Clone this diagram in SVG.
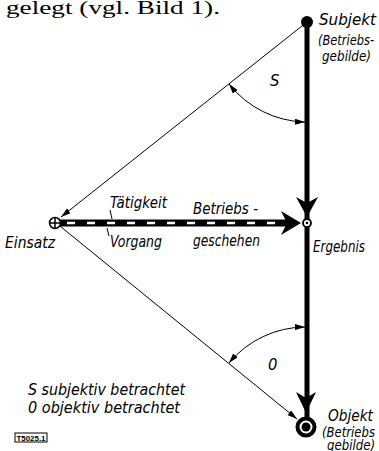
<svg xmlns="http://www.w3.org/2000/svg" width="379" height="451" viewBox="0 0 379 451">
<style>
.t{font-family:"DejaVu Sans Condensed","DejaVu Sans","Liberation Sans",sans-serif;font-style:italic;font-size:16.5px;fill:#000}
.s{font-size:14px}
.thin{stroke:#000;stroke-width:1;fill:none}
</style>
<defs>
<marker id="ah" viewBox="0 0 10 6" refX="10" refY="3" markerWidth="10" markerHeight="6" markerUnits="userSpaceOnUse" orient="auto-start-reverse">
<path d="M0,0 L10,3 L0,6 Z" fill="#000"/>
</marker>
</defs>
<rect width="379" height="451" fill="#fff"/>
<text x="6" y="14" font-family="Liberation Serif,serif" font-size="19" textLength="214" lengthAdjust="spacingAndGlyphs">gelegt (vgl. Bild 1).</text>
<g id="connectors">
<line class="thin" x1="307" y1="22" x2="61" y2="217" marker-end="url(#ah)"/>
<line class="thin" x1="55" y1="222" x2="297" y2="419" marker-end="url(#ah)"/>
<path class="thin" d="M229,84 A100,100 0 0 0 305,122" marker-start="url(#ah)" marker-end="url(#ah)"/>
<path class="thin" d="M305,327 A100,100 0 0 0 229,363" marker-start="url(#ah)" marker-end="url(#ah)"/>
<line x1="307" y1="22" x2="307" y2="420" stroke="#000" stroke-width="5"/>
<path d="M307,217 L296,197 L307,203 L318,197 Z" fill="#000"/>
<path d="M306,413 L296,392 L306,398 L316,392 Z" fill="#000"/>
<line x1="60" y1="223" x2="290" y2="223" stroke="#000" stroke-width="7"/>
<line x1="67" y1="223" x2="290" y2="223" stroke="#fff" stroke-width="2.5" stroke-dasharray="8 12"/>
<path d="M301,223 L281,211 L287,223 L281,235 Z" fill="#000"/>
<line class="thin" x1="110" y1="210" x2="112" y2="219"/>
<line class="thin" x1="107" y1="228" x2="109" y2="236"/>
</g>
<g id="subjekt">
<circle cx="307" cy="22" r="6" fill="#000"/>
<text class="t" x="319" y="25" textLength="57" lengthAdjust="spacingAndGlyphs">Subjekt</text>
<text class="t s" x="318" y="45" textLength="56" lengthAdjust="spacingAndGlyphs">(Betriebs-</text>
<text class="t s" x="322" y="61" textLength="49" lengthAdjust="spacingAndGlyphs">gebilde)</text>
</g>
<g id="einsatz">
<circle cx="55" cy="223" r="5.5" fill="#fff" stroke="#000" stroke-width="1.5"/>
<path d="M49.5,223 H60.5 M55,217.5 V228.5" stroke="#000" stroke-width="1.5"/>
<text class="t" x="5" y="248" textLength="50" lengthAdjust="spacingAndGlyphs">Einsatz</text>
</g>
<g id="ergebnis">
<circle cx="307" cy="223" r="4" fill="#fff" stroke="#000" stroke-width="1.8"/>
<circle cx="307" cy="223" r="1.3" fill="#000"/>
<text class="t" x="313" y="252" textLength="52" lengthAdjust="spacingAndGlyphs">Ergebnis</text>
</g>
<g id="objekt">
<circle cx="306" cy="427" r="8.5" fill="#fff" stroke="#000" stroke-width="4"/>
<circle cx="306" cy="427" r="4.5" fill="#000"/>
<text class="t" x="328" y="421" textLength="45" lengthAdjust="spacingAndGlyphs">Objekt</text>
<text class="t s" x="322" y="437" textLength="53" lengthAdjust="spacingAndGlyphs">(Betriebs</text>
<text class="t s" x="327" y="450" textLength="48" lengthAdjust="spacingAndGlyphs">gebilde)</text>
</g>
<g id="labels">
<text class="t" x="110" y="208" textLength="57" lengthAdjust="spacingAndGlyphs">Tätigkeit</text>
<text class="t" x="110" y="247" textLength="52" lengthAdjust="spacingAndGlyphs">Vorgang</text>
<text class="t" x="193" y="214" textLength="65" lengthAdjust="spacingAndGlyphs">Betriebs -</text>
<text class="t" x="193" y="246" textLength="67" lengthAdjust="spacingAndGlyphs">geschehen</text>
<text class="t" x="270" y="86" font-size="20">S</text>
<text class="t" x="268" y="370" font-size="20">0</text>
<text class="t" x="28" y="395" textLength="157" lengthAdjust="spacingAndGlyphs">S  subjektiv betrachtet</text>
<text class="t" x="28" y="413" textLength="152" lengthAdjust="spacingAndGlyphs">0  objektiv betrachtet</text>
<rect x="15" y="433" width="32" height="9" fill="none" stroke="#000" stroke-width="1"/>
<text x="31" y="440.5" font-family="Liberation Sans Narrow,Liberation Sans,sans-serif" font-weight="bold" font-size="8" text-anchor="middle" textLength="29" lengthAdjust="spacingAndGlyphs">T5025.1</text>
</g>
</svg>
